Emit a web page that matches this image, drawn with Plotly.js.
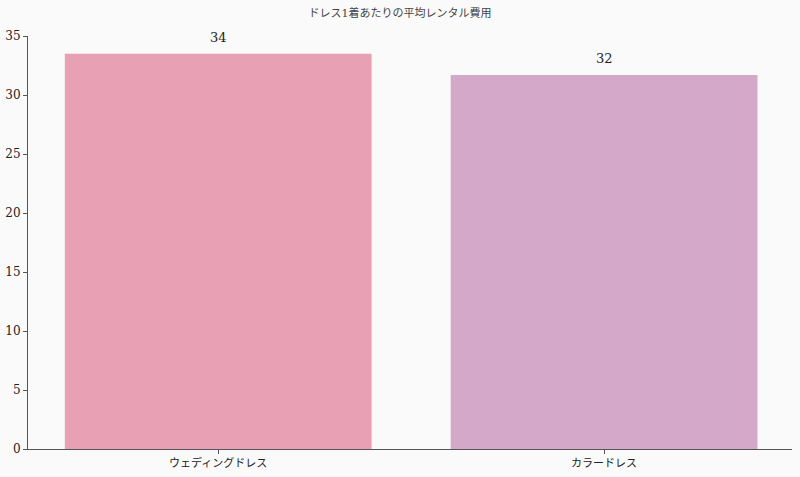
<!DOCTYPE html>
<html>
<head>
<meta charset="utf-8">
<script src="https://cdn.plot.ly/plotly-3.0.1.min.js"></script>
<style>
  html, body { margin: 0; padding: 0; background: #fafafa; }
  #chart { width: 800px; height: 477px; }
</style>
</head>
<body>
<div id="chart"></div>
<script>
const categories = ['ウェディングドレス', 'カラードレス'];
const avgCost = [33.5, 31.7];
const barColors = ['#e8a0b4', '#d4a8c8'];

const font = '"DejaVu Serif", "Liberation Serif", "Noto Sans CJK JP", serif';

const trace = {
    type: 'bar',
    x: categories,
    y: avgCost,
    width: 0.795,
    marker: { color: barColors },
    hoverinfo: 'x+y'
};

// value labels above the bars, a bit further up than textposition:'outside' puts them
const labels = categories.map((c, i) => ({
    x: c,
    y: avgCost[i],
    text: avgCost[i].toFixed(0),
    showarrow: false,
    yanchor: 'bottom',
    yshift: 7,
    font: { family: font, size: 13, color: '#222' }
}));

const layout = {
    width: 800,
    height: 477,
    font: { family: font, size: 11, color: '#222' },
    paper_bgcolor: '#fafafa',
    plot_bgcolor: '#fafafa',
    margin: { l: 28, r: 8, t: 36, b: 28 },
    showlegend: false,
    title: {
        text: 'ドレス1着あたりの平均レンタル費用',
        font: { family: font, size: 11, color: '#444' },
        x: 0.5,
        y: 0.98
    },
    annotations: labels,
    xaxis: {
        range: [-0.493, 1.487],
        showline: true,
        linecolor: '#555',
        linewidth: 1,
        ticks: 'outside',
        ticklen: 4,
        tickcolor: '#555',
        tickfont: { family: font, size: 11, color: '#222' },
        showgrid: false
    },
    yaxis: {
        range: [0, 35],
        dtick: 5,
        showline: true,
        linecolor: '#555',
        linewidth: 1,
        ticks: 'outside',
        ticklen: 4,
        tickcolor: '#555',
        tickfont: { family: font, size: 12, color: '#222' },
        showgrid: false,
        zeroline: false
    }
};

Plotly.newPlot('chart', [trace], layout, { displayModeBar: false });
</script>
</body>
</html>
